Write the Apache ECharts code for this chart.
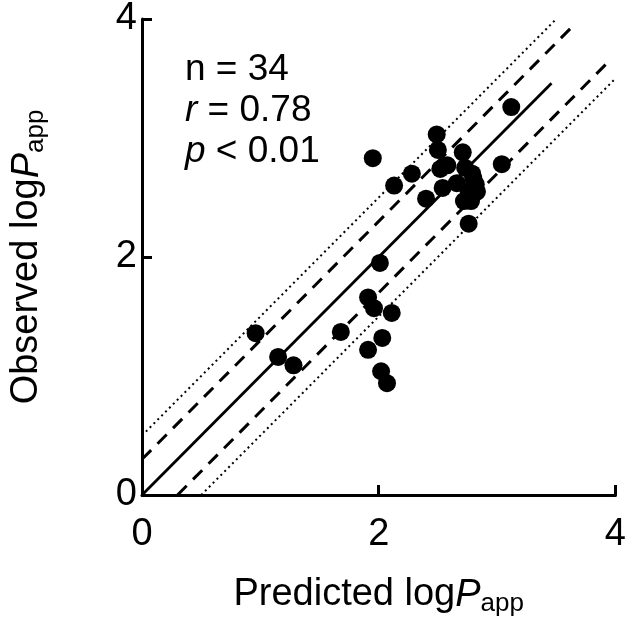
<!DOCTYPE html>
<html><head><meta charset="utf-8">
<script src="https://cdn.jsdelivr.net/npm/echarts@6/dist/echarts.min.js"></script>
<style>html,body{margin:0;padding:0;background:#fff}#c{width:629px;height:640px}</style>
</head><body><div id="c"></div>
<script>
// Observed vs predicted logPapp (34 compounds)
var predicted = [0.96,1.15,1.28,1.68,1.91,1.96,1.91,2.01,2.03,2.02,2.07,2.11,1.95,
  2.13,2.28,2.40,2.49,2.50,2.52,2.58,2.54,2.66,2.71,2.79,2.82,2.76,2.78,2.76,3.04,3.12,
  2.73,2.83,2.72,2.80];
var observed = [1.36,1.16,1.09,1.37,1.66,1.57,1.22,1.95,1.32,1.04,0.94,1.53,2.83,
  2.60,2.70,2.49,3.03,2.90,2.74,2.77,2.58,2.62,2.88,2.70,2.61,2.55,2.47,2.28,2.78,3.26,
  2.75,2.55,2.47,2.66];
var identityLine = [[0,0],[3.46,3.46]];
var upperDashed = [[0,0.3],[3.66,3.96]];
var lowerDashed = [[0.3,0],[3.97,3.67]];
var upperDotted = [[0,0.5],[3.5,4.0]];
var lowerDotted = [[0.5,0],[4.0,3.5]];
var axisMin = 0, axisMax = 4, axisStep = 2;
var statLines = ['n = 34', '{i|r} = 0.78', '{i|p} < 0.01'];

var FONT = '"Liberation Sans", Arial, sans-serif';
var points = predicted.map(function(x,i){return [x, observed[i]];});
function nameRich(){
  return {
    a:{fontSize:38,fontFamily:FONT,color:'#000',lineHeight:44,verticalAlign:'middle'},
    b:{fontSize:38,fontFamily:FONT,fontStyle:'italic',color:'#000',lineHeight:44,verticalAlign:'middle'},
    c:{fontSize:26,fontFamily:FONT,color:'#000',lineHeight:14,verticalAlign:'bottom'}
  };
}
function axisCommon(){
  return {
    type:'value', min:axisMin, max:axisMax, interval:axisStep,
    axisLine:{show:true,lineStyle:{color:'#000',width:3}},
    axisTick:{show:true,inside:true,length:10,lineStyle:{color:'#000',width:3}},
    splitLine:{show:false},
    axisLabel:{fontSize:38,fontFamily:FONT,color:'#000'},
    nameLocation:'middle',
    nameTextStyle:{rich:nameRich()}
  };
}
var xAxis = axisCommon();
xAxis.name = '{a|Predicted log}{b|P}{c|app}';
xAxis.nameGap = 78;
xAxis.axisLabel.margin = 21;
var yAxis = axisCommon();
yAxis.name = '{a|Observed log}{b|P}{c|app}';
yAxis.nameGap = 93;
yAxis.nameRotate = 90;
yAxis.axisLabel.margin = 5;

function lineSeries(data, type, width){
  return {type:'line', data:data, symbol:'none', silent:true, z:1,
    lineStyle:{color:'#000', width:width, type:type}};
}
var chart = echarts.init(document.getElementById('c'));
chart.setOption({
  animation:false,
  grid:{left:141,right:12,top:17,bottom:145,containLabel:false},
  xAxis:xAxis, yAxis:yAxis,
  series:[
    lineSeries(identityLine,'solid',2.8),
    lineSeries(upperDashed,[13,9],3),
    lineSeries(lowerDashed,[13,9],3),
    lineSeries(upperDotted,[2,3.5],2),
    lineSeries(lowerDotted,[2,3.5],2),
    {type:'scatter', data:points, symbol:'circle', symbolSize:18, z:3,
     itemStyle:{color:'#000', opacity:1}}
  ],
  graphic: statLines.map(function(t,i){
    return {type:'text', left:185, top:51 + i*41, z:10,
      style:{text:t, fontSize:37, fontFamily:FONT, fill:'#000',
        rich:{i:{fontSize:37,fontFamily:FONT,fontStyle:'italic',fill:'#000'}}}};
  })
});
</script></body></html>
